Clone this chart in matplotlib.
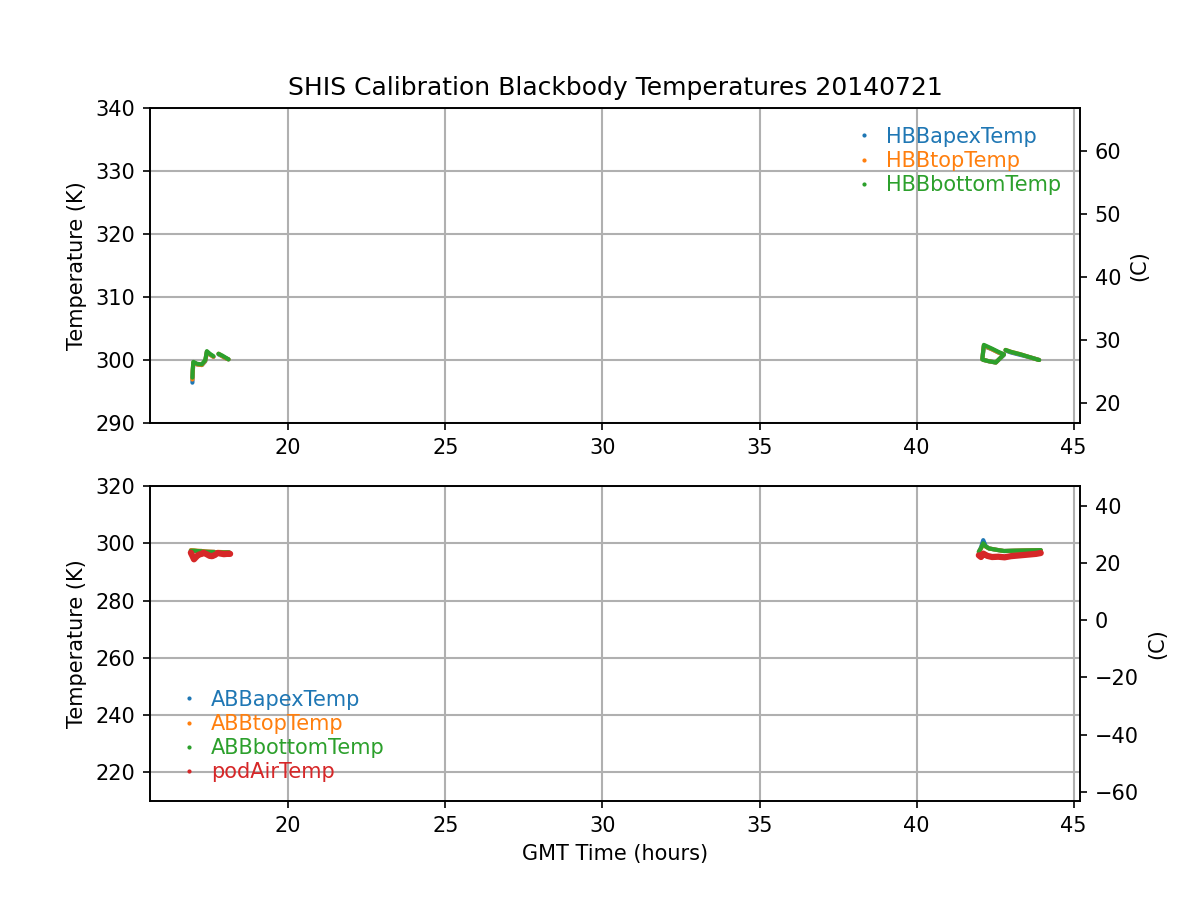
import matplotlib
matplotlib.use("Agg")
import matplotlib.pyplot as plt
from matplotlib.lines import Line2D
import numpy as np

# ---------- data (GMT hours, Kelvin) ----------
# top panel: hot blackbody, first cluster
hbb1_t = [16.95, 16.96, 16.98, 17.10, 17.25, 17.36, 17.41, 17.50, 17.62]
hbb1_apex = [296.4, 298.0, 299.6, 299.3, 299.2, 299.8, 301.3, 300.9, 300.5]
hbb1_top = [296.9, 298.3, 299.6, 299.3, 299.2, 299.9, 301.3, 300.9, 300.5]
hbb1_bottom = [297.2, 298.5, 299.7, 299.4, 299.3, 300.0, 301.4, 301.0, 300.6]
hbb2_t = [17.78, 17.90, 18.00, 18.10]
hbb2_apex = [300.9, 300.6, 300.3, 300.1]
hbb2_top = [301.0, 300.6, 300.3, 300.1]
hbb2_bottom = [301.0, 300.7, 300.4, 300.1]
# top panel: second cluster (loop)
hbb3_t = [42.09, 42.14, 42.40, 42.60, 42.78, 42.52, 42.30, 42.14]
hbb3_apex = [300.1, 302.2, 301.7, 301.2, 300.8, 299.6, 299.8, 300.0]
hbb3_top = [300.1, 302.3, 301.7, 301.2, 300.9, 299.6, 299.8, 300.0]
hbb3_bottom = [300.1, 302.4, 301.8, 301.3, 300.9, 299.6, 299.8, 300.0]
hbb4_t = [42.83, 43.00, 43.31, 43.63, 43.90]
hbb4_apex = [301.5, 301.2, 300.8, 300.4, 300.0]
hbb4_top = [301.6, 301.3, 300.9, 300.4, 300.0]
hbb4_bottom = [301.6, 301.3, 300.9, 300.4, 300.0]

# bottom panel: ambient blackbody + pod air
abb1_t = [16.90, 17.00, 17.10, 17.25]
abb1_apex = [297.5, 297.4, 297.3, 297.3]
abb1_top = [297.6, 297.5, 297.4, 297.3]
abb1_bottom = [297.4, 297.4, 297.3, 297.2]
abb2_t = [17.30, 17.45, 17.65]
abb2_apex = [297.1, 297.0, 297.0]
abb2_top = [297.2, 297.1, 297.0]
abb2_bottom = [297.1, 297.0, 296.9]
abb3_t = [17.75, 17.95, 18.12]
abb3_apex = [296.9, 296.9, 296.8]
abb3_top = [297.0, 296.9, 296.8]
abb3_bottom = [296.9, 296.8, 296.8]
abb4_t = [41.98, 42.05, 42.12, 42.20, 42.30, 42.55, 42.78, 43.10, 43.50, 43.95]
abb4_apex = [297.0, 298.5, 301.1, 299.0, 298.2, 297.7, 297.3, 297.4, 297.5, 297.6]
abb4_top = [297.0, 298.2, 299.6, 298.8, 298.2, 297.7, 297.3, 297.4, 297.5, 297.6]
abb4_bottom = [297.0, 298.3, 300.0, 298.9, 298.2, 297.7, 297.3, 297.4, 297.5, 297.6]

pod1_t = [16.90, 16.95, 17.00, 17.05, 17.12, 17.20, 17.25]
pod1_air = [296.7, 295.6, 294.4, 295.0, 295.8, 296.2, 296.3]
pod2_t = [17.30, 17.40, 17.50, 17.58, 17.68]
pod2_air = [296.7, 296.2, 295.6, 295.5, 296.0]
pod3_t = [17.75, 17.85, 17.95, 18.05, 18.15]
pod3_air = [296.6, 296.4, 296.2, 296.3, 296.3]
pod4_t = [41.98, 42.05, 42.12, 42.25, 42.40, 42.60, 42.80, 43.00, 43.20, 43.40, 43.60, 43.80, 43.95]
pod4_air = [295.8, 295.2, 296.4, 295.6, 295.2, 295.3, 295.1, 295.5, 295.7, 295.9, 296.1, 296.3, 296.6]

top_labels = ["HBBapexTemp", "HBBtopTemp", "HBBbottomTemp"]
bot_labels = ["ABBapexTemp", "ABBtopTemp", "ABBbottomTemp", "podAirTemp"]
colors = ["#1f77b4", "#ff7f0e", "#2ca02c", "#d62728"]

K0 = 273.15

fig = plt.figure(figsize=(8, 6), dpi=150)
ax1 = fig.add_subplot(2, 1, 1)
ax2 = fig.add_subplot(2, 1, 2)

kw = dict(lw=2.0, solid_capstyle="round", solid_joinstyle="round")

top_groups = [
    (hbb1_t, [hbb1_apex, hbb1_top, hbb1_bottom]),
    (hbb2_t, [hbb2_apex, hbb2_top, hbb2_bottom]),
    (hbb3_t, [hbb3_apex, hbb3_top, hbb3_bottom]),
    (hbb4_t, [hbb4_apex, hbb4_top, hbb4_bottom]),
]
for i in range(3):
    for t, series in top_groups:
        ax1.plot(t, series[i], color=colors[i], **kw)

bot_groups = [
    (abb1_t, [abb1_apex, abb1_top, abb1_bottom]),
    (abb2_t, [abb2_apex, abb2_top, abb2_bottom]),
    (abb3_t, [abb3_apex, abb3_top, abb3_bottom]),
    (abb4_t, [abb4_apex, abb4_top, abb4_bottom]),
]
for i in range(3):
    for t, series in bot_groups:
        ax2.plot(t, series[i], color=colors[i], **kw)
for t, v in [(pod1_t, pod1_air), (pod2_t, pod2_air), (pod3_t, pod3_air), (pod4_t, pod4_air)]:
    ax2.plot(t, v, color=colors[3], lw=3.0, solid_capstyle="round")

xlim = (15.6, 45.2)
for ax, yl in [(ax1, (290, 340)), (ax2, (210, 320))]:
    ax.set_xlim(*xlim)
    ax.set_ylim(*yl)
    ax.grid(True, color="#b0b0b0", lw=1.0)
    ax.set_ylabel("Temperature (K)")
    tw = ax.twinx()
    tw.set_ylim(yl[0] - K0, yl[1] - K0)
    tw.set_ylabel("(C)")

ax1.set_title("SHIS Calibration Blackbody Temperatures 20140721")
ax2.set_xlabel("GMT Time (hours)")

leg_kw = dict(frameon=False, labelcolor="linecolor", fontsize=10,
              handlelength=0.5, handletextpad=0.8, labelspacing=0.2)
h1 = [Line2D([], [], marker=".", ms=2, ls="none", color=c) for c in colors[:3]]
ax1.legend(h1, top_labels, loc="upper right", **leg_kw)
h2 = [Line2D([], [], marker=".", ms=2, ls="none", color=c) for c in colors]
ax2.legend(h2, bot_labels, loc="lower left", bbox_to_anchor=(0.016, 0.0), **leg_kw)

fig.savefig("out.png", dpi=150)
